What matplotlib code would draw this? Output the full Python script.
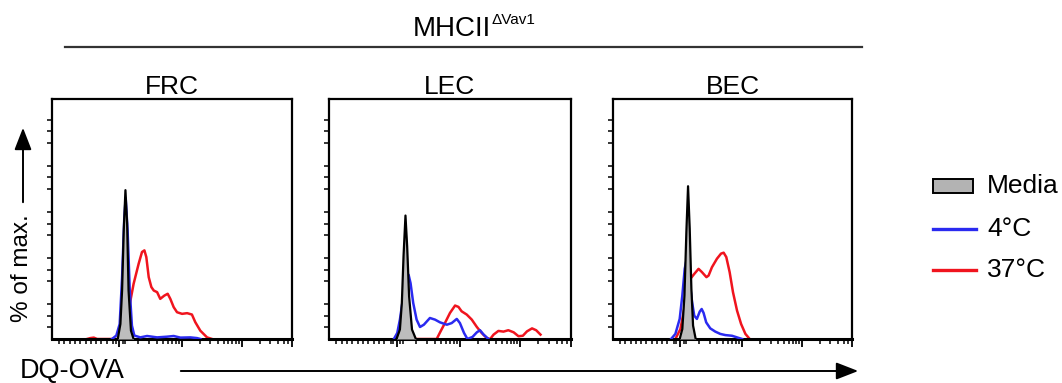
import numpy as np
import matplotlib
matplotlib.use("Agg")
import matplotlib.pyplot as plt

plt.rcParams['font.family'] = ['Liberation Sans', 'DejaVu Sans']

# ---- data: histogram outlines (x = fraction of the DQ-OVA axis, y = % of max.)
panels = ['FRC', 'LEC', 'BEC']

frc_media_x = [0.274, 0.285, 0.292, 0.299, 0.306, 0.313, 0.319, 0.329, 0.340]
frc_media_y = [0.0, 6.5, 21.0, 47.0, 64.5, 50.0, 21.0, 3.6, 0.0]
frc_4c_x = [0.250, 0.268, 0.282, 0.292, 0.301, 0.307, 0.315, 0.324, 0.333, 0.343, 0.368,
            0.396, 0.438, 0.479, 0.507, 0.535, 0.576, 0.604, 0.618]
frc_4c_y = [0.0, 1.5, 6.5, 26.5, 52.0, 61.0, 47.0, 21.0, 5.8, 1.5, 0.7,
            1.3, 0.7, 1.0, 1.3, 0.6, 0.7, 0.4, 0.0]
frc_37c_x = [0.146, 0.160, 0.174, 0.188, 0.282, 0.299, 0.319, 0.340, 0.361, 0.375, 0.385,
             0.393, 0.403, 0.414, 0.424, 0.438, 0.451, 0.468, 0.482, 0.493, 0.507, 0.521,
             0.542, 0.563, 0.583, 0.597, 0.618, 0.646, 0.667]
frc_37c_y = [0.0, 0.4, 0.6, 0.0, 0.0, 3.6, 12.3, 23.9, 32.6, 37.7, 38.4,
             35.5, 26.8, 22.5, 21.0, 20.3, 17.4, 18.8, 19.6, 17.4, 13.8, 11.6,
             10.9, 11.2, 10.6, 7.3, 3.6, 0.7, 0.0]

lec_media_x = [0.279, 0.293, 0.301, 0.308, 0.316, 0.323, 0.331, 0.343, 0.359]
lec_media_y = [0.0, 4.1, 15.6, 35.9, 53.5, 40.1, 18.5, 4.1, 0.0]
lec_4c_x = [0.268, 0.282, 0.293, 0.307, 0.318, 0.329, 0.337, 0.348, 0.362, 0.376, 0.392,
            0.417, 0.438, 0.459, 0.487, 0.507, 0.528, 0.541, 0.558, 0.572, 0.593, 0.611,
            0.624, 0.639, 0.659]
lec_4c_y = [0.0, 2.6, 8.4, 18.5, 26.4, 27.8, 24.2, 15.6, 8.4, 5.2, 6.2,
            9.1, 8.4, 7.2, 6.2, 6.9, 8.7, 6.9, 2.6, 0.0, 0.9, 2.9,
            3.8, 1.9, 0.0]
lec_37c_x = [0.272, 0.293, 0.307, 0.323, 0.337, 0.445, 0.461, 0.479, 0.500, 0.521, 0.535,
             0.548, 0.569, 0.590, 0.611, 0.631, 0.652, 0.666, 0.680, 0.700, 0.721, 0.741,
             0.763, 0.783, 0.801, 0.818, 0.839, 0.856, 0.874]
lec_37c_y = [0.0, 2.6, 3.3, 1.9, 0.0, 0.0, 3.3, 6.9, 11.3, 14.5, 13.9,
             12.0, 10.6, 8.4, 5.2, 2.6, 0.4, 0.0, 1.9, 3.5, 3.2, 3.8,
             2.9, 1.2, 1.4, 3.3, 4.6, 3.8, 1.9]

bec_media_x = [0.279, 0.290, 0.299, 0.307, 0.314, 0.321, 0.328, 0.335, 0.346]
bec_media_y = [0.0, 4.3, 18.8, 46.4, 66.2, 47.8, 21.7, 5.8, 0.0]
bec_4c_x = [0.243, 0.261, 0.279, 0.290, 0.300, 0.307, 0.314, 0.321, 0.331, 0.340, 0.351,
            0.363, 0.371, 0.379, 0.390, 0.407, 0.428, 0.449, 0.470, 0.498, 0.519, 0.540]
bec_4c_y = [0.0, 2.2, 8.7, 18.8, 30.4, 34.0, 31.9, 24.6, 15.9, 10.1, 8.7,
            11.9, 13.0, 11.3, 7.2, 4.6, 3.2, 2.2, 1.7, 1.4, 0.7, 0.0]
bec_37c_x = [0.261, 0.282, 0.298, 0.312, 0.324, 0.340, 0.358, 0.372, 0.391, 0.400, 0.414,
             0.435, 0.452, 0.463, 0.474, 0.488, 0.502, 0.519, 0.536, 0.554, 0.572]
bec_37c_y = [0.0, 4.3, 13.0, 21.7, 26.1, 28.2, 30.4, 29.0, 26.8, 27.5, 31.1,
             34.8, 37.0, 37.4, 35.5, 29.0, 20.3, 12.3, 6.5, 2.2, 0.0]

series = {
    'FRC': dict(media=(frc_media_x, frc_media_y), c4=(frc_4c_x, frc_4c_y), c37=(frc_37c_x, frc_37c_y)),
    'LEC': dict(media=(lec_media_x, lec_media_y), c4=(lec_4c_x, lec_4c_y), c37=(lec_37c_x, lec_37c_y)),
    'BEC': dict(media=(bec_media_x, bec_media_y), c4=(bec_4c_x, bec_4c_y), c37=(bec_37c_x, bec_37c_y)),
}

legend_labels = ['Media', '4°C', '37°C']

BLUE = '#2a2af0'
RED = '#f0141e'
GREY = '#bdbdbd'

# ---- tick positions (flow cytometry style biexponential axis)
decades = [0.28, 0.54, 0.79, 1.04]
x_major = [0.28, 0.54, 0.79, 0.998]
x_minor = list(np.arange(0.03, 0.24, 0.022)) + [0.255, 0.265, 0.295, 0.305]
for a, b in zip(decades[:-1], decades[1:]):
    for k in range(2, 10):
        p = a + (b - a) * np.log10(k)
        if p < 0.995:
            x_minor.append(p)
y_minor = [v for v in range(5, 104, 5) if v % 20 != 0]

fig = plt.figure(figsize=(10.62, 3.83), dpi=100)
W, H = 1062, 383

boxes = {'FRC': (52, 292), 'LEC': (329, 571), 'BEC': (613, 852)}
top_px, bot_px = 99, 339

for name in panels:
    l, r = boxes[name]
    ax = fig.add_axes([l / W, (H - bot_px) / H, (r - l) / W, (bot_px - top_px) / H])
    d = series[name]
    ax.plot(*d['c37'], color=RED, lw=1.8, zorder=2)
    ax.plot(*d['c4'], color=BLUE, lw=1.8, zorder=3)
    mx, my = d['media']
    ax.fill_between(mx, my, color=GREY, zorder=4, lw=0)
    ax.plot(mx, my, color='black', lw=1.6, zorder=5)
    ax.set_xlim(0, 1)
    ax.set_ylim(0, 104)
    ax.set_xticks(x_major)
    ax.set_xticks(x_minor, minor=True)
    ax.set_yticks([])
    ax.set_yticks(y_minor, minor=True)
    ax.tick_params(axis='x', which='major', direction='out', length=6, width=1.3, labelbottom=False)
    ax.tick_params(axis='x', which='minor', direction='out', length=3.5, width=1.1)
    ax.tick_params(axis='y', which='minor', direction='out', length=3.5, width=1.1)
    for s in ax.spines.values():
        s.set_linewidth(1.6)
    ax.spines['bottom'].set_linewidth(2.2)
    ax.set_title(name, fontsize=19, pad=1)

# group header
fig.text(491 / W, (H - 29) / H, 'MHCII', ha='right', va='center', fontsize=20,
         family=['Liberation Sans Narrow', 'Liberation Sans'])
fig.text(492 / W, (H - 20) / H, 'ΔVav1', ha='left', va='center', fontsize=11,
         family=['Liberation Sans Narrow', 'Liberation Sans'])
fig.add_artist(plt.Line2D([65 / W, 862 / W], [(H - 47) / H] * 2, color='#333333', lw=1.6))

# axis labels with arrows
fig.text(22 / W, (H - 268) / H, '% of max.', rotation=90, ha='center', va='center', fontsize=17.5)
fig.add_artist(matplotlib.patches.FancyArrowPatch(
    (23 / W, (H - 205) / H), (23 / W, (H - 125) / H), transform=fig.transFigure,
    arrowstyle='-|>,head_length=0.9,head_width=0.35', mutation_scale=15, color='black', lw=1.4))
fig.text(20 / W, (H - 371) / H, 'DQ-OVA', ha='left', va='center', fontsize=19.5)
fig.add_artist(matplotlib.patches.FancyArrowPatch(
    (178 / W, (H - 371) / H), (861 / W, (H - 371) / H), transform=fig.transFigure,
    arrowstyle='-|>,head_length=0.9,head_width=0.35', mutation_scale=15, color='black', lw=1.4))

# legend drawn by hand to the right
fig.add_artist(matplotlib.patches.Rectangle((933 / W, (H - 193) / H), 40 / W, 14 / H,
                                            transform=fig.transFigure, facecolor='#b3b3b3',
                                            edgecolor='black', lw=1.4))
fig.add_artist(plt.Line2D([933 / W, 976 / W], [(H - 229) / H] * 2, color=BLUE, lw=2.4))
fig.add_artist(plt.Line2D([933 / W, 976 / W], [(H - 270) / H] * 2, color=RED, lw=2.4))
for lab, yp in zip(legend_labels, [186, 229, 270]):
    fig.text(987 / W, (H - yp) / H, lab, ha='left', va='center', fontsize=19)

fig.savefig('out.png', dpi=100)
